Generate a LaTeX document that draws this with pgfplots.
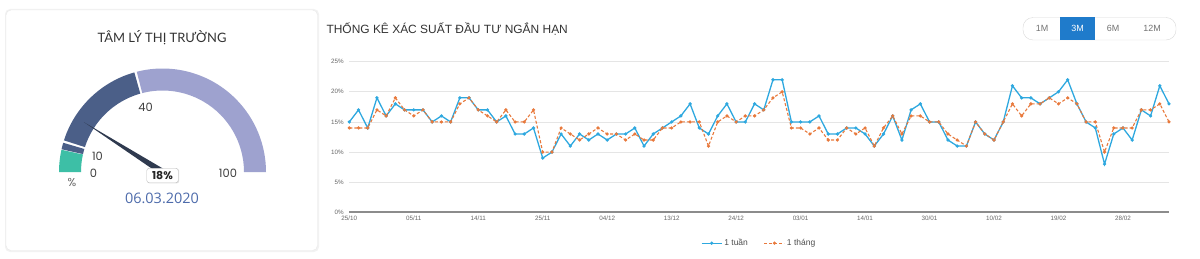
\documentclass[border=0pt]{standalone}
\usepackage{fontspec}
\setmainfont{Liberation Sans}
\newfontfamily\pop{Poppins}
\newfontfamily\lato{Lato}
\newfontfamily\opens{Open Sans}
\usepackage{pgfplots}
\pgfplotsset{compat=1.18}
\usepackage{pgfplotstable}
\definecolor{cblue}{HTML}{2EA8DF}
\definecolor{corange}{HTML}{E8793C}
\definecolor{gteal}{HTML}{3DBFA6}
\definecolor{gdark}{HTML}{4B5F88}
\definecolor{glav}{HTML}{9EA2CF}
\definecolor{gneedle}{HTML}{2F3A4F}
\definecolor{gdate}{HTML}{4D6BAB}
\definecolor{selblue}{HTML}{1F7BCB}

\pgfplotstableread{
x b o
0 15 14
1 17 14
2 14 14
3 19 17
4 16 16
5 18 19
6 17 17
7 17 16
8 17 17
9 15 15
10 16 15
11 15 15
12 19 18
13 19 19
14 17 17
15 17 16
16 15 15
17 16 17
18 13 15
19 13 15
20 14 17
21 9 10
22 10 10
23 13 14
24 11 13
25 13 12
26 12 13
27 13 14
28 12 13
29 13 13
30 13 12
31 14 13
32 11 12
33 13 12
34 14 14
35 15 14
36 16 15
37 18 15
38 14 15
39 13 11
40 16 15
41 18 16
42 15 15
43 15 16
44 18 16
45 17 17
46 22 19
47 22 20
48 15 14
49 15 14
50 15 13
51 16 14
52 13 12
53 13 12
54 14 14
55 14 13
56 13 14
57 11 11
58 13 14
59 16 16
60 12 13
61 17 16
62 18 16
63 15 15
64 15 15
65 12 13
66 11 12
67 11 11
68 15 15
69 13 13
70 12 12
71 15 15
72 21 18
73 19 16
74 19 18
75 18 18
76 19 19
77 20 18
78 22 19
79 18 18
80 15 15
81 14 15
82 8 10
83 13 14
84 14 14
85 12 14
86 17 17
87 16 17
88 21 18
89 18 15
}\data

\def\gval{18}

\begin{document}
\begin{tikzpicture}[x=1bp,y=1bp]
\useasboundingbox (0,0) rectangle (1200,258);
% ---------- left card ----------
\fill[black!5, rounded corners=5bp] (5,6) rectangle (319,249);
\fill[white, draw=black!9, rounded corners=5bp] (6,7.5) rectangle (317.5,248);
\node[font=\lato\fontsize{13}{14}\selectfont, text=black!80] at (162,220) {TÂM LÝ THỊ TRƯỜNG};
% gauge
\coordinate (C) at (162.5,86);
\def\RR{103.5}\def\rr{81.5}
\newcommand\seg[3]{\fill[#1] ([shift={(C)}]#2:\RR) arc[start angle=#2,end angle=#3,radius=\RR] -- ([shift={(C)}]#3:\rr) arc[start angle=#3,end angle=#2,radius=\rr] -- cycle;}
\seg{gteal}{180}{167.6}
\seg{gdark}{167.3}{163.6}
\seg{gdark}{162.2}{105.8}
\seg{glav}{104.4}{0}
% needle
\pgfmathsetmacro\nang{180-1.8*\gval}
\fill[gneedle] ([shift={(C)}]\nang:93) -- ([shift={(C)}]\nang-90:3.2) -- ([shift={(C)}]\nang+90:3.2) -- cycle;
% labels
\node[font=\pop\fontsize{11.5}{12}\selectfont, text=black!75] at (145.5,150.5) {40};
\node[font=\pop\fontsize{11.5}{12}\selectfont, text=black!75] at (97.5,102) {10};
\node[font=\pop\fontsize{11.5}{12}\selectfont, text=black!75] at (93.5,84.5) {0};
\node[font=\pop\fontsize{11.5}{12}\selectfont, text=black!75] at (228,84.5) {100};
\node[font=\pop\fontsize{11.5}{12}\selectfont, text=black!60] at (72,75.5) {\%};
\fill[black!12, rounded corners=2.5bp] (147.2,74.6) rectangle (179.2,89.4);
\node[draw=black!25, fill=white, rounded corners=2.5bp, minimum width=31.5bp, minimum height=14.5bp, inner sep=0pt,
      font=\pop\bfseries\fontsize{11}{12}\selectfont, text=black!85] at (162.5,82.5) {\gval\%};
\node[font=\opens\fontsize{14.5}{15}\selectfont, text=gdate] at (162,60) {06.03.2020};
% ---------- right title ----------
\node[anchor=west, font=\fontsize{12}{13}\selectfont, text=black!80] at (323,229) {THỐNG KÊ XÁC SUẤT ĐẦU TƯ NGẮN HẠN};
% buttons
\draw[black!15, fill=white, rounded corners=10bp] (1023,218) rectangle (1176,240.5);
\fill[selblue] (1060,218) rectangle (1095,240.5);
\node[font=\fontsize{9}{10}\selectfont, text=black!55] at (1042,229.3) {1M};
\node[font=\fontsize{9}{10}\selectfont, text=white] at (1077.5,229.3) {3M};
\node[font=\fontsize{9}{10}\selectfont, text=black!55] at (1113,229.3) {6M};
\node[font=\fontsize{9}{10}\selectfont, text=black!55] at (1152,229.3) {12M};
% ---------- chart ----------
\begin{axis}[
  at={(349.3bp,45.7bp)}, anchor=origin, scale only axis,
  width=819.7bp, height=150.6bp,
  xmin=0, xmax=89, ymin=0, ymax=25,
  axis lines*=left,
  y axis line style={draw=none},
  x axis line style={draw=black!45, line width=2bp},
  major tick length=0pt,
  ytick={0,5,...,25},
  yticklabel={\pgfmathprintnumber{\tick}\%},
  xtick={0,7,...,84},
  xticklabels={25/10,05/11,14/11,25/11,04/12,13/12,24/12,03/01,14/01,30/01,10/02,19/02,28/02},
  ymajorgrids, grid style={black!10, line width=0.8bp},
  tick label style={font=\fontsize{6.3}{7}\selectfont, text=black!60},
  /pgf/number format/assume math mode=true,
  yticklabel style={xshift=-2bp},
  xticklabel style={yshift=-0.5bp},
  clip=false,
  legend style={at={(0.5,-0.205)}, anchor=center, draw=none, fill=none, legend columns=2,
     font=\fontsize{8.5}{9}\selectfont, text=black!70,
     /tikz/every even column/.append style={column sep=14bp}},
  legend image code/.code={\draw[mark repeat=2,mark phase=2] plot coordinates {(0bp,0bp) (10bp,0bp) (20bp,0bp)};},
]
\addplot[cblue, line width=1.3bp, mark=*, mark size=0.9bp] table[x=x,y=b]{\data};
\addlegendentry{1 tuần}
\addplot[corange, line width=1.1bp, dash pattern=on 3bp off 2bp, mark=*, mark size=1bp, mark options={solid}] table[x=x,y=o]{\data};
\addlegendentry{1 tháng}
\end{axis}
\end{tikzpicture}
\end{document}
